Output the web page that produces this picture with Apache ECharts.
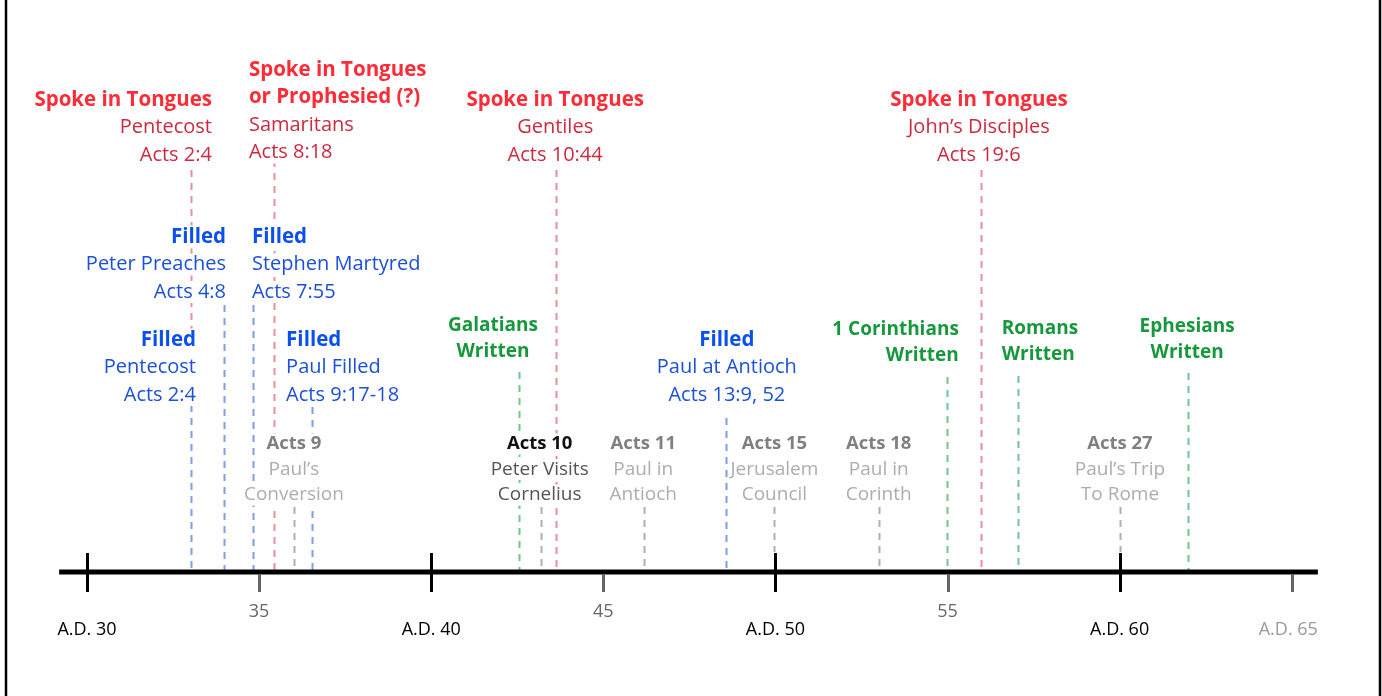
<!DOCTYPE html>
<html><head><meta charset="utf-8">
<script src="https://cdn.jsdelivr.net/npm/echarts@6/dist/echarts.min.js"></script>
<style>html,body{margin:0;padding:0;background:#fff}#c{width:1382px;height:696px}</style>
</head><body><div id="c"></div>
<script>
// ---------- DATA ----------
const axisExtent = [29.19, 65.76];
const tickYears = [30, 35, 40, 45, 50, 55, 60, 65];
const tickLabels = ['A.D. 30', '35', 'A.D. 40', '45', 'A.D. 50', '55', 'A.D. 60', 'A.D. 65'];

const tongueYears = [33.02, 35.43, 43.63, 55.97];
const tongueHeads = [['Spoke in Tongues'], ['Spoke in Tongues', 'or Prophesied (?)'], ['Spoke in Tongues'], ['Spoke in Tongues']];
const tonguePeople = ['Pentecost', 'Samaritans', 'Gentiles', 'John\u2019s Disciples'];
const tongueRefs = ['Acts 2:4', 'Acts 8:18', 'Acts 10:44', 'Acts 19:6'];

const filledYears = [33.02, 33.98, 34.82, 36.54, 48.56];
const filledHeads = ['Filled', 'Filled', 'Filled', 'Filled', 'Filled'];
const filledPeople = ['Pentecost', 'Peter Preaches', 'Stephen Martyred', 'Paul Filled', 'Paul at Antioch'];
const filledRefs = ['Acts 2:4', 'Acts 4:8', 'Acts 7:55', 'Acts 9:17-18', 'Acts 13:9, 52'];

const letterYears = [42.55, 54.98, 57.04, 61.99];
const letterNames = ['Galatians', '1 Corinthians', 'Romans', 'Ephesians'];
const letterNote = 'Written';

const eventYears = [36.01, 43.18, 46.19, 49.97, 53.0, 60.01];
const eventChapters = ['Acts 9', 'Acts 10', 'Acts 11', 'Acts 15', 'Acts 18', 'Acts 27'];
const eventLine1 = ['Paul\u2019s', 'Peter Visits', 'Paul in', 'Jerusalem', 'Paul in', 'Paul\u2019s Trip'];
const eventLine2 = ['Conversion', 'Cornelius', 'Antioch', 'Council', 'Corinth', 'To Rome'];
const highlightedEvent = 'Acts 10';

// ---------- LAYOUT (pixel placement of labels / line extents) ----------
const AXIS_Y = 572;
const tongueLayout = [
  {align: 'right', dx: 23, y0: 100, top: 170, bottom: 330},
  {align: 'left', dx: -27, y0: 70, top: 160, bottom: 570},
  {align: 'center', dx: -1, y0: 100, top: 170, bottom: 570},
  {align: 'center', dx: -2, y0: 100, top: 170, bottom: 570}
];
const filledLayout = [
  {align: 'right', dx: 7, y0: 340, top: 405, bottom: 570},
  {align: 'right', dx: 4, y0: 237, top: 305, bottom: 570},
  {align: 'left', dx: -3, y0: 237, top: 305, bottom: 570},
  {align: 'left', dx: -28, y0: 340, top: 407, bottom: 570},
  {align: 'center', dx: 1, y0: 340, top: 418, bottom: 570}
];
const letterLayout = [
  {align: 'center', dx: -26, y0: 326, top: 372, bottom: 570},
  {align: 'right', dx: 14, y0: 330, top: 377, bottom: 570},
  {align: 'left', dx: -18, y0: 329, top: 376, bottom: 570},
  {align: 'center', dx: -1, y0: 327, top: 373, bottom: 570}
];
const eventLayout = [
  {align: 'center', dx: 0, y0: 444, top: 507, bottom: 570},
  {align: 'center', dx: -1, y0: 444, top: 507, bottom: 570},
  {align: 'center', dx: -1, y0: 444, top: 507, bottom: 570},
  {align: 'center', dx: 0, y0: 444, top: 507, bottom: 552},
  {align: 'center', dx: 0, y0: 444, top: 507, bottom: 570},
  {align: 'center', dx: 0, y0: 444, top: 507, bottom: 552}
];
const LH = 27.5;
const ELH = 26;

const FONT = '"Open Sans", "Noto Sans", sans-serif';
const STY = {
  tHead: {fill: '#ff2b36', font: 'bold 20.5px ' + FONT},
  tSub: {fill: '#cc2a40', font: '20px ' + FONT},
  fHead: {fill: '#0a4ff0', font: 'bold 20.5px ' + FONT},
  fSub: {fill: '#1c50d8', font: '20px ' + FONT},
  gHead: {fill: '#17983c', font: 'bold 19px ' + FONT},
  eHead: {fill: '#808080', font: 'bold 18.5px ' + FONT},
  eSub: {fill: '#adadad', font: '19px ' + FONT},
  xHead: {fill: '#111111', font: 'bold 18.5px ' + FONT},
  xSub: {fill: '#555555', font: '19px ' + FONT}
};
const LINE_COLORS = {t: '#e8909a', f: '#7f9de8', g: '#72c690', e: '#b0b0b0'};

// ---------- BUILD ----------
const lineData = [];
const textData = [];
function addGroup(kind, year, lay, lines, lh) {
  lineData.push([year, lay.top, lay.bottom, kind]);
  lines.forEach((l, i) => {
    textData.push([year, lay.y0 + i * lh, l[0], l[1], lay.align, lay.dx]);
  });
}
tongueYears.forEach((y, i) => {
  const lines = tongueHeads[i].map(h => [h, 'tHead']);
  lines.push([tonguePeople[i], 'tSub'], [tongueRefs[i], 'tSub']);
  addGroup('t', y, tongueLayout[i], lines, LH);
});
filledYears.forEach((y, i) => {
  addGroup('f', y, filledLayout[i], [[filledHeads[i], 'fHead'], [filledPeople[i], 'fSub'], [filledRefs[i], 'fSub']], LH);
});
letterYears.forEach((y, i) => {
  addGroup('g', y, letterLayout[i], [[letterNames[i], 'gHead'], [letterNote, 'gHead']], ELH);
});
eventYears.forEach((y, i) => {
  const hl = eventChapters[i] === highlightedEvent;
  addGroup('e', y, eventLayout[i], [[eventChapters[i], hl ? 'xHead' : 'eHead'], [eventLine1[i], hl ? 'xSub' : 'eSub'], [eventLine2[i], hl ? 'xSub' : 'eSub']], 25.5);
});

const tickData = tickYears.map((y, i) => [y, i]);

const chart = echarts.init(document.getElementById('c'), null, {renderer: 'canvas'});
chart.setOption({
  animation: false,
  backgroundColor: '#ffffff',
  grid: {left: 0, right: 0, top: 0, bottom: 0},
  xAxis: {type: 'value', min: 27.472, max: 67.623, show: false},
  yAxis: {type: 'value', min: 0, max: 696, inverse: true, show: false},
  graphic: [
    {type: 'line', shape: {x1: 6, y1: 0, x2: 6, y2: 696}, style: {stroke: '#000', lineWidth: 2.5}},
    {type: 'line', shape: {x1: 1380, y1: 0, x2: 1380, y2: 696}, style: {stroke: '#000', lineWidth: 2.5}}
  ],
  series: [
    {
      type: 'custom', z: 1, data: lineData, clip: false,
      renderItem: (p, api) => {
        const d = lineData[p.dataIndex];
        const a = api.coord([d[0], d[1]]);
        const b = api.coord([d[0], d[2]]);
        const x = Math.round(a[0]) + 0.5;
        return {type: 'line', shape: {x1: x, y1: a[1], x2: x, y2: b[1]},
          style: {stroke: LINE_COLORS[d[3]], lineWidth: 2, lineDash: [7, 6]}};
      }
    },
    {
      type: 'custom', z: 2, data: [axisExtent], clip: false,
      renderItem: (p, api) => {
        const a = api.coord([axisExtent[0], AXIS_Y]);
        const b = api.coord([axisExtent[1], AXIS_Y]);
        return {type: 'line', shape: {x1: a[0], y1: a[1], x2: b[0], y2: b[1]},
          style: {stroke: '#000', lineWidth: 5}};
      }
    },
    {
      type: 'custom', z: 3, data: tickData, clip: false,
      renderItem: (p, api) => {
        const d = tickData[p.dataIndex];
        const major = d[0] % 10 === 0;
        const last = p.dataIndex === tickYears.length - 1;
        const pt = api.coord([d[0], AXIS_Y]);
        const x = Math.round(pt[0]) + 0.5;
        const children = [{
          type: 'line',
          shape: {x1: x, y1: major ? pt[1] - 19 : pt[1] + 2, x2: x, y2: pt[1] + 20},
          style: {stroke: major ? '#000' : '#666', lineWidth: 3}
        }];
        let lx = pt[0], align = 'center';
        if (last) { lx = api.coord([axisExtent[1], AXIS_Y])[0]; align = 'right'; }
        children.push({
          type: 'text', x: lx, y: major || last ? pt[1] + 58 : pt[1] + 40,
          style: {text: tickLabels[d[1]], align: align, verticalAlign: 'middle',
            font: '18px ' + FONT,
            fill: last ? '#9a9a9a' : (major ? '#000' : '#666')}
        });
        return {type: 'group', children: children};
      }
    },
    {
      type: 'custom', z: 4, data: textData, clip: false,
      renderItem: (p, api) => {
        const d = textData[p.dataIndex];
        const pt = api.coord([d[0], d[1]]);
        const s = STY[d[3]];
        return {type: 'text', x: pt[0] + d[5], y: pt[1],
          style: {text: d[2], align: d[4], verticalAlign: 'middle', font: s.font, fill: s.fill,
            backgroundColor: '#ffffff', padding: [1, 2, 1, 2]}};
      }
    }
  ]
});
</script>
</body></html>
